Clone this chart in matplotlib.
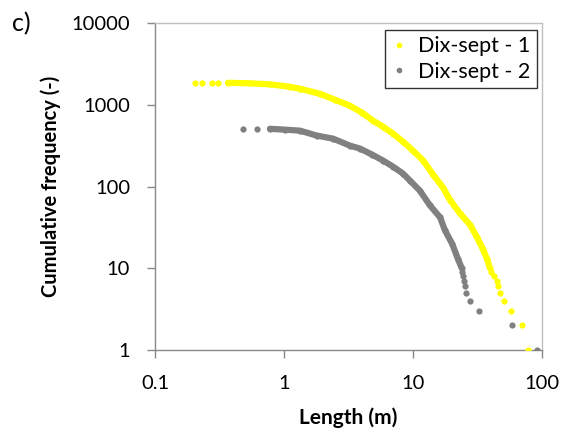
import matplotlib
matplotlib.use("Agg")
import matplotlib.pyplot as plt
import numpy as np

plt.rcParams["font.family"] = ["Lato", "DejaVu Sans"]

# Dix-sept - 1 (yellow): length (m) and cumulative frequency
len_1 = [0.204, 0.231, 0.277, 0.308, 0.368, 0.544, 0.778, 1.11, 1.33, 1.90,
         2.49, 3.25, 4.03, 4.90, 5.85, 7.00, 8.36, 10.0, 12.0, 14.3,
         17.1, 19.4, 23.1, 27.7, 31.3, 34.9, 37.5, 39.5, 40.3, 42.4,
         44.8, 46.0, 47.2, 50.7, 57.5, 70.0, 77.8]
cum_1 = [1860, 1859, 1858, 1857, 1856, 1829, 1778, 1659, 1567, 1362,
         1151, 972, 799, 638, 539, 443, 354, 275, 208, 140,
         97, 68, 47, 34, 24, 17, 13, 10, 9, 8,
         7, 6, 5, 4, 3, 2, 1]

# Dix-sept - 2 (grey)
len_2 = [0.481, 0.618, 0.778, 1.02, 1.33, 1.80, 2.40, 3.25, 3.88, 4.81,
         5.85, 7.00, 8.36, 9.48, 11.3, 13.5, 16.2, 17.7, 20.1, 22.3,
         23.9, 24.0, 24.4, 24.7, 25.1, 25.8, 27.7, 32.5, 58.5, 91.4]
cum_2 = [510, 509, 508, 496, 482, 419, 385, 316, 291, 246,
         208, 175, 144, 118, 89, 59, 42, 29, 20, 13,
         10, 9, 8, 7, 6, 5, 4, 3, 2, 1]

# where the points are so dense they merge into a band
dense_1 = slice(4, 28)
dense_2 = slice(2, 21)

yellow = "#FFFF00"
grey = "#808080"
axis_col = "#898989"

fig = plt.figure(figsize=(5.67, 4.30), dpi=100)
ax = fig.add_axes([0.2734, 0.1860, 0.6825, 0.7605])

x1, y1 = np.array(len_1), np.array(cum_1)
x2, y2 = np.array(len_2), np.array(cum_2)

ax.plot(x1[dense_1], y1[dense_1], color=yellow, lw=4.5,
        solid_capstyle="round", solid_joinstyle="round", zorder=2)
ax.plot(x1, y1, ls="none", marker="o", ms=4.5, mec="none", mfc=yellow,
        label="Dix-sept - 1", zorder=3)
ax.plot(x2[dense_2], y2[dense_2], color=grey, lw=4.5,
        solid_capstyle="round", solid_joinstyle="round", zorder=2)
ax.plot(x2, y2, ls="none", marker="o", ms=4.5, mec="none", mfc=grey,
        label="Dix-sept - 2", zorder=3)

ax.set_xscale("log")
ax.set_yscale("log")
ax.set_xlim(0.1, 100)
ax.set_ylim(1, 10000)

xticks = [0.1, 1, 10, 100]
yticks = [1, 10, 100, 1000, 10000]
ax.set_xticks(xticks)
ax.set_xticklabels(["0.1", "1", "10", "100"])
ax.set_yticks(yticks)
ax.set_yticklabels(["1", "10", "100", "1000", "10000"])
ax.minorticks_off()
ax.tick_params(axis="both", which="major", length=6, width=1,
               color=axis_col, labelsize=14.5, labelcolor="black")
ax.tick_params(axis="x", pad=12)
ax.tick_params(axis="y", pad=12)

for side in ["left", "bottom"]:
    ax.spines[side].set_color(axis_col)
    ax.spines[side].set_linewidth(1)
for side in ["top", "right"]:
    ax.spines[side].set_color("#C0C0C0")
    ax.spines[side].set_linewidth(1)

ax.set_xlabel("Length (m)", fontsize=15, fontweight="bold")
ax.set_ylabel("Cumulative frequency (-)", fontsize=14.5, fontweight="bold")
ax.xaxis.label.set_va("center")
ax.yaxis.label.set_va("center")
ax.xaxis.set_label_coords(0.5, -0.208)
ax.yaxis.set_label_coords(-0.269, 0.5)

leg = ax.legend(loc="upper right", bbox_to_anchor=(0.987, 0.979),
                borderaxespad=0, fontsize=15.5, frameon=True, fancybox=False,
                handlelength=0.7, handletextpad=0.55, borderpad=0.3,
                labelspacing=0.25, markerscale=0.9)
leg.get_frame().set_edgecolor("black")
leg.get_frame().set_linewidth(1)

fig.text(0.022, 0.944, "c)", fontsize=18, va="center", ha="left")

fig.savefig("out.png", dpi=100)
